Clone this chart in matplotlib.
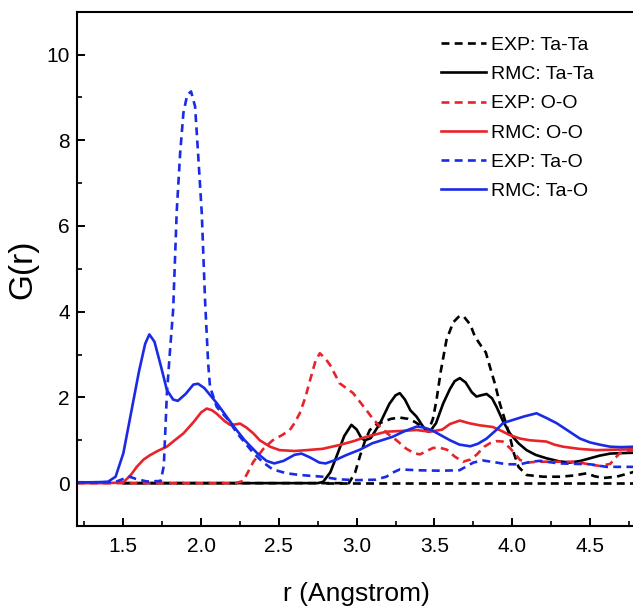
import matplotlib
matplotlib.use("Agg")
import matplotlib.pyplot as plt
from matplotlib.ticker import MultipleLocator

plt.rcParams["font.family"] = ["Liberation Sans", "DejaVu Sans"]

# --- EXP: Ta-Ta ---
exp_tata_r = [1.50, 2.00, 2.50, 2.95, 2.99, 3.02, 3.05, 3.084, 3.13, 3.17, 3.22, 3.277, 3.33,
              3.373, 3.42, 3.459, 3.49, 3.513, 3.54, 3.577, 3.62, 3.66, 3.69, 3.73, 3.76, 3.80,
              3.83, 3.856, 3.89, 3.92, 3.955, 3.985, 4.01, 4.04, 4.092, 4.20, 4.31, 4.40, 4.478,
              4.53, 4.585, 4.67, 4.72, 4.78]
exp_tata_g = [0.0, 0.0, 0.0, 0.0, 0.25, 0.62, 0.95, 1.24, 1.38, 1.43, 1.50, 1.53, 1.50,
              1.43, 1.32, 1.20, 1.50, 1.94, 2.60, 3.34, 3.75, 3.90, 3.88, 3.70, 3.42, 3.20,
              3.05, 2.72, 2.30, 1.86, 1.45, 1.08, 0.70, 0.38, 0.19, 0.15, 0.15, 0.18, 0.23,
              0.16, 0.12, 0.15, 0.20, 0.26]

# --- RMC: Ta-Ta ---
rmc_tata_r = [1.50, 2.00, 2.50, 2.75, 2.784, 2.83, 2.87, 2.92, 2.966, 3.00, 3.03, 3.052, 3.09,
              3.149, 3.21, 3.25, 3.277, 3.31, 3.345, 3.385, 3.43, 3.47, 3.51, 3.556, 3.60, 3.63,
              3.663, 3.70, 3.74, 3.77, 3.80, 3.835, 3.87, 3.899, 3.94, 3.985, 4.04, 4.092, 4.15,
              4.22, 4.30, 4.37, 4.44, 4.50, 4.56, 4.63, 4.70, 4.78]
rmc_tata_g = [0.0, 0.0, 0.0, 0.0, 0.03, 0.25, 0.62, 1.10, 1.36, 1.25, 1.05, 1.00, 1.05,
              1.39, 1.85, 2.05, 2.10, 1.95, 1.70, 1.55, 1.30, 1.20, 1.40, 1.86, 2.20, 2.38,
              2.45, 2.35, 2.12, 2.02, 2.05, 2.08, 1.98, 1.78, 1.45, 1.16, 0.93, 0.77, 0.66,
              0.58, 0.51, 0.48, 0.52, 0.58, 0.64, 0.69, 0.70, 0.71]

# --- EXP: O-O ---
exp_oo_r = [1.20, 1.50, 2.00, 2.22, 2.27, 2.30, 2.336, 2.40, 2.46, 2.52, 2.57, 2.60, 2.634, 2.67,
            2.70, 2.735, 2.763, 2.80, 2.83, 2.89, 2.94, 2.977, 3.02, 3.063, 3.10, 3.149, 3.20,
            3.256, 3.32, 3.37, 3.406, 3.45, 3.49, 3.53, 3.58, 3.63, 3.684, 3.73, 3.77, 3.82,
            3.856, 3.90, 3.94, 3.99, 4.05, 4.10, 4.16, 4.285, 4.39, 4.48, 4.563, 4.63, 4.69, 4.78]
exp_oo_g = [0.0, 0.0, 0.0, 0.0, 0.05, 0.25, 0.50, 0.80, 1.00, 1.12, 1.24, 1.40, 1.63, 2.00,
            2.40, 2.85, 3.03, 2.90, 2.75, 2.33, 2.20, 2.10, 1.90, 1.70, 1.52, 1.32, 1.15,
            1.00, 0.80, 0.70, 0.67, 0.75, 0.82, 0.83, 0.78, 0.62, 0.50, 0.55, 0.66, 0.85,
            0.93, 0.98, 0.97, 0.80, 0.54, 0.48, 0.50, 0.50, 0.50, 0.45, 0.40, 0.45, 0.70, 0.78]

# --- RMC: O-O ---
rmc_oo_r = [1.20, 1.40, 1.50, 1.55, 1.586, 1.63, 1.67, 1.72, 1.779, 1.83, 1.886, 1.95, 2.00,
            2.036, 2.07, 2.10, 2.15, 2.186, 2.22, 2.25, 2.29, 2.336, 2.377, 2.443, 2.505, 2.60,
            2.677, 2.78, 2.89, 2.98, 3.06, 3.19, 3.30, 3.385, 3.47, 3.55, 3.60, 3.663, 3.72,
            3.79, 3.875, 3.93, 3.985, 4.05, 4.113, 4.22, 4.27, 4.327, 4.43, 4.54, 4.65, 4.78]
rmc_oo_g = [0.0, 0.0, 0.02, 0.20, 0.38, 0.55, 0.65, 0.75, 0.85, 1.00, 1.16, 1.42, 1.65,
            1.74, 1.70, 1.62, 1.45, 1.36, 1.37, 1.39, 1.30, 1.16, 1.00, 0.85, 0.77, 0.75,
            0.77, 0.80, 0.89, 0.98, 1.08, 1.20, 1.22, 1.24, 1.20, 1.25, 1.38, 1.46, 1.40,
            1.35, 1.31, 1.22, 1.12, 1.04, 1.00, 0.97, 0.90, 0.85, 0.80, 0.77, 0.78, 0.79]

# --- EXP: Ta-O ---
exp_tao_r = [1.20, 1.35, 1.45, 1.50, 1.54, 1.58, 1.65, 1.74, 1.76, 1.78, 1.80, 1.82, 1.843,
             1.865, 1.886, 1.91, 1.935, 1.961, 1.98, 2.004, 2.025, 2.045, 2.057, 2.10, 2.175,
             2.23, 2.336, 2.40, 2.46, 2.55, 2.634, 2.78, 2.88, 3.00, 3.12, 3.19, 3.24, 3.277,
             3.40, 3.535, 3.66, 3.72, 3.75, 3.81, 3.90, 3.963, 4.05, 4.12, 4.18, 4.30, 4.40,
             4.50, 4.606, 4.68, 4.78]
exp_tao_g = [0.02, 0.02, 0.03, 0.10, 0.15, 0.10, 0.04, 0.05, 0.40, 2.10, 3.10, 4.04, 6.34,
             7.70, 8.64, 9.05, 9.14, 8.79, 7.71, 6.30, 4.28, 2.80, 2.25, 1.78, 1.47,
             1.17, 0.70, 0.48, 0.32, 0.23, 0.19, 0.15, 0.09, 0.07, 0.08, 0.15, 0.26, 0.32,
             0.30, 0.29, 0.30, 0.42, 0.48, 0.53, 0.48, 0.44, 0.44, 0.50, 0.52, 0.46, 0.45,
             0.44, 0.38, 0.38, 0.38]

# --- RMC: Ta-O ---
rmc_tao_r = [1.20, 1.30, 1.40, 1.45, 1.50, 1.55, 1.60, 1.64, 1.667, 1.70, 1.74, 1.78, 1.82,
             1.85, 1.90, 1.95, 1.98, 2.02, 2.10, 2.16, 2.21, 2.28, 2.36, 2.42, 2.47, 2.53,
             2.60, 2.645, 2.70, 2.76, 2.80, 2.87, 2.93, 3.02, 3.10, 3.23, 3.30, 3.385, 3.43,
             3.48, 3.55, 3.60, 3.66, 3.73, 3.78, 3.835, 3.90, 3.94, 4.00, 4.08, 4.156, 4.22,
             4.285, 4.36, 4.435, 4.50, 4.56, 4.63, 4.70, 4.78]
rmc_tao_g = [0.02, 0.02, 0.03, 0.15, 0.70, 1.65, 2.60, 3.25, 3.47, 3.30, 2.75, 2.17, 1.95,
             1.92, 2.08, 2.30, 2.32, 2.22, 1.87, 1.57, 1.32, 1.00, 0.70, 0.52, 0.46, 0.52,
             0.66, 0.69, 0.60, 0.48, 0.46, 0.55, 0.65, 0.78, 0.93, 1.08, 1.20, 1.32, 1.30,
             1.24, 1.10, 1.00, 0.90, 0.86, 0.92, 1.04, 1.25, 1.40, 1.47, 1.56, 1.63, 1.52,
             1.40, 1.22, 1.04, 0.95, 0.90, 0.85, 0.84, 0.85]

# zero line drawn dashed in the original
zero_r = [2.80, 4.80]
zero_g = [0.0, 0.0]

BLACK = "#000000"
RED = "#e8232a"
BLUE = "#1a2be6"
DASH = (0, (3, 2))

fig = plt.figure(figsize=(6.33, 6.11), dpi=100)
ax = fig.add_axes([76.7 / 633, 85 / 611, 560 / 633, 514.3 / 611])

lw = 1.9
ax.plot(zero_r, zero_g, color=BLACK, lw=lw, linestyle=DASH)
ax.plot(exp_tata_r, exp_tata_g, color=BLACK, lw=lw, linestyle=DASH, label="EXP: Ta-Ta")
ax.plot(rmc_tata_r, rmc_tata_g, color=BLACK, lw=lw, label="RMC: Ta-Ta")
ax.plot(exp_oo_r, exp_oo_g, color=RED, lw=lw, linestyle=DASH, label="EXP: O-O")
ax.plot(rmc_oo_r, rmc_oo_g, color=RED, lw=lw, label="RMC: O-O")
ax.plot(exp_tao_r, exp_tao_g, color=BLUE, lw=lw, linestyle=DASH, label="EXP: Ta-O")
ax.plot(rmc_tao_r, rmc_tao_g, color=BLUE, lw=lw, label="RMC: Ta-O")

ax.set_xlim(1.2, 4.8)
ax.set_ylim(-1, 11)
ax.xaxis.set_major_locator(MultipleLocator(0.5))
ax.xaxis.set_minor_locator(MultipleLocator(0.25))
ax.yaxis.set_major_locator(MultipleLocator(2))
ax.yaxis.set_minor_locator(MultipleLocator(1))
ax.set_xticks([1.5, 2.0, 2.5, 3.0, 3.5, 4.0, 4.5])
ax.set_xticklabels(["1.5", "2.0", "2.5", "3.0", "3.5", "4.0", "4.5"])
ax.set_yticks([0, 2, 4, 6, 8, 10])

ax.tick_params(which="major", direction="in", length=6, width=1.4, labelsize=15)
ax.tick_params(which="minor", direction="in", length=3.5, width=1.2)
ax.tick_params(axis="x", which="major", pad=8)
ax.tick_params(axis="y", which="major", pad=5)
for s in ax.spines.values():
    s.set_linewidth(1.5)
ax.spines["right"].set_visible(False)

ax.set_xlabel("r (Angstrom)", fontsize=19, labelpad=19)
ax.set_ylabel("G(r)", fontsize=24, labelpad=6)

leg = ax.legend(loc="upper right", bbox_to_anchor=(0.945, 0.975), frameon=False, fontsize=14,
                handlelength=2.3, handletextpad=0.3, labelspacing=0.6, borderaxespad=0.2)

fig.savefig("out.png", dpi=100)
